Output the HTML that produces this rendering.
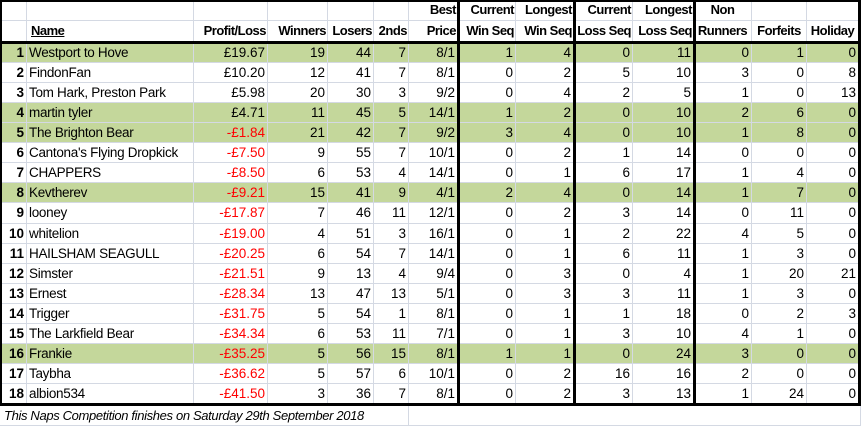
<!DOCTYPE html>
<html><head><meta charset="utf-8">
<style>
body{margin:0;background:#fff;width:861px;height:426px;overflow:hidden;font-family:"Liberation Sans",sans-serif;font-size:13.5px;}
#sheet{position:relative;width:861px;height:426px;}
.c{position:absolute;box-sizing:border-box;border-right:1px solid #d4d9e3;border-bottom:1px solid #d4d9e3;white-space:nowrap;overflow:hidden;line-height:20px;padding:0 2px;}
.r{text-align:right;}
.b{font-weight:bold;}
.h{font-size:13px;letter-spacing:-0.5px;padding:0 1px;}
.g{background:#c4d79b;}
.red{color:#f00;}
.k{position:absolute;background:#000;}
</style></head><body>
<div id="sheet"></div>
<script>
const colX=[0,27,194,268,328,374,409,458,516,574,633,694,752,807,859];
const head1=["","","","","","","Best","Current","Longest","Current","Longest","Non","",""];
const head2=["","Name","Profit/Loss","Winners","Losers","2nds","Price","Win Seq","Win Seq","Loss Seq","Loss Seq","Runners","Forfeits","Holiday"];
const colNames=["rank","name","profit-loss","winners","losers","seconds","best-price","current-win-seq","longest-win-seq","current-loss-seq","longest-loss-seq","non-runners","forfeits","holiday"];
const names=["Westport to Hove","FindonFan","Tom Hark, Preston Park","martin tyler","The Brighton Bear","Cantona's Flying Dropkick","CHAPPERS","Kevtherev","looney","whitelion","HAILSHAM SEAGULL","Simster","Ernest","Trigger","The Larkfield Bear","Frankie","Taybha","albion534"];
const profits=["£19.67","£10.20","£5.98","£4.71","-£1.84","-£7.50","-£8.50","-£9.21","-£17.87","-£19.00","-£20.25","-£21.51","-£28.34","-£31.75","-£34.34","-£35.25","-£36.62","-£41.50"];
const winners=[19,12,20,11,21,9,6,15,7,4,6,9,13,5,6,5,5,3];
const losers=[44,41,30,45,42,55,53,41,46,51,54,13,47,54,53,56,57,36];
const seconds=[7,7,3,5,7,7,4,9,11,3,7,4,13,1,11,15,6,7];
const bestPrice=["8/1","8/1","9/2","14/1","9/2","10/1","14/1","4/1","12/1","16/1","14/1","9/4","5/1","8/1","7/1","8/1","10/1","8/1"];
const curWin=[1,0,0,1,3,0,0,2,0,0,0,0,0,0,0,1,0,0];
const longWin=[4,2,4,2,4,2,1,4,2,1,1,3,3,1,1,1,2,2];
const curLoss=[0,5,2,0,0,1,6,0,3,2,6,0,3,1,3,0,16,3];
const longLoss=[11,10,5,10,10,14,17,14,14,22,11,4,11,18,10,24,16,13];
const nonRunners=[0,3,1,2,1,0,1,1,0,4,1,1,1,0,4,3,2,1];
const forfeits=[1,0,0,6,8,0,4,7,11,5,3,20,3,2,1,0,0,24];
const holiday=[0,8,13,0,0,0,0,0,0,0,0,21,0,3,0,0,0,0];
const greenRows=[1,4,5,8,16];
const sheet=document.getElementById('sheet');
function cell(x0,x1,y,h,txt,cls,name){
  const d=document.createElement('div');
  d.className='c '+cls;
  d.style.left=x0+'px';d.style.top=y+'px';d.style.width=(x1-x0)+'px';d.style.height=h+'px';
  d.textContent=txt;
  
  
  sheet.appendChild(d);return d;
}
for(let c=0;c<14;c++){
  const al=(c<2?'':(c>=11?'':'r'));
  const t=cell(colX[c],colX[c+1],0,21,head1[c],'b h '+al,'header-top-'+colNames[c]);
  const h=cell(colX[c],colX[c+1],21,22,head2[c],'b h '+al,'header-'+colNames[c]);
  if(c>=11){t.style.textAlign='center';h.style.textAlign='center';}
  if(c==1){h.style.textDecoration='underline';h.style.paddingLeft='4px';}
}
for(let i=0;i<18;i++){
  const y=43+i*20.06;
  const g=greenRows.includes(i+1)?' g':'';
  const vals=[i+1,names[i],profits[i],winners[i],losers[i],seconds[i],bestPrice[i],curWin[i],longWin[i],curLoss[i],longLoss[i],nonRunners[i],forfeits[i],holiday[i]];
  for(let c=0;c<14;c++){
    let cls=g;
    if(c==0)cls+=' r b';else if(c>1)cls+=' r';
    if(c==2&&String(profits[i]).startsWith('-'))cls+=' red';
    const d=cell(colX[c],colX[c+1],Math.round(y),Math.round(y+20.06)-Math.round(y),String(vals[c]),cls,'row-'+(i+1)+'-'+colNames[c]);
    if(c==1)d.style.letterSpacing='-0.3px';
  }
}
const f=cell(0,409,406,20,'This Naps Competition finishes on Saturday 29th September 2018','','footer-note');
f.style.fontStyle='italic';f.style.paddingLeft='4px';f.style.fontSize='13px';f.style.letterSpacing='-0.35px';
cell(409,861,406,20,'','','footer-blank');
function line(x,y,w,h,n){const d=document.createElement('div');d.className='k';d.style.left=x+'px';d.style.top=y+'px';d.style.width=w+'px';d.style.height=h+'px';


sheet.appendChild(d);}
line(0,0,861,2,'top-border');
line(0,0,2,406,'left-border');
line(0,41,861,3,'header-rule');
line(0,403,861,3,'bottom-rule');
line(457,0,3,406,'divider-win');
line(573,0,3,406,'divider-loss');
line(693,0,3,406,'divider-runners');
line(858,0,3,406,'right-border');
</script>
</body></html>
